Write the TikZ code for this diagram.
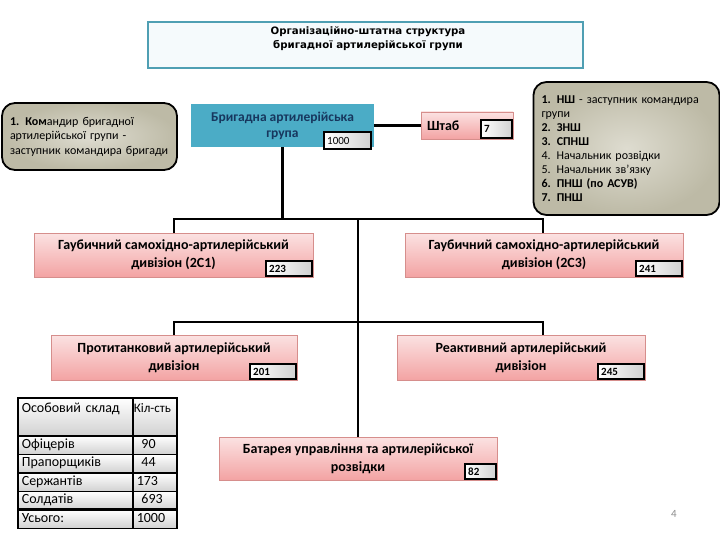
\documentclass[tikz,border=0pt]{standalone}
\usepackage{fontspec}
\setmainfont{Carlito}
\newfontfamily\titlefont{DejaVu Sans}
\usepackage{tikz}

\definecolor{titleline}{HTML}{4F9FB3}
\definecolor{titlefill}{HTML}{F5FAFC}
\definecolor{pinktop}{HTML}{FBE2E2}
\definecolor{pinkbot}{HTML}{F3A3A3}
\definecolor{pinkline}{HTML}{D68E8C}
\definecolor{brigblue}{HTML}{4BACC6}
\definecolor{brigtext}{HTML}{17375E}
\definecolor{notein}{HTML}{DEDCD0}
\definecolor{noteout}{HTML}{BDBAA6}

\begin{document}
\begin{tikzpicture}[x=1pt, y=-1pt,
    unitbox/.style={draw=pinkline, top color=pinktop, bottom color=pinkbot,
        minimum height=44, inner sep=2pt, align=center,
        font=\bfseries\fontsize{14}{18}\selectfont},
    numbox/.style={draw=black, line width=2pt, left color=white, right color=black!18,
        anchor=south east, minimum height=15, inner xsep=3pt, inner ysep=1pt,
        text width=#1, align=left, font=\bfseries\fontsize{11}{12}\selectfont},
    numbox/.default=40,
    notebox/.style={draw=black, line width=1.8pt, rounded corners=13pt,
        inner color=notein, outer color=noteout, align=left, inner xsep=8pt,
        font=\fontsize{12}{14.5}\selectfont},
    link/.style={line width=2.6pt},
    cell/.style={draw=black, line width=1.6pt, top color=white, bottom color=black!18,
        anchor=north west, inner xsep=4pt, inner ysep=0pt, text depth=3pt,
        font=\fontsize{14}{17}\selectfont},
    headcell/.style={cell, minimum height=38, text height=10pt, text depth=18pt}
]
    \useasboundingbox (0,0) rectangle (720,540);

    % Title
    \node[draw=titleline, line width=2.5pt, fill=titlefill, minimum width=435,
        minimum height=46] (title) at (365.5,45) {};
    \node[align=center, font=\titlefont\bfseries\fontsize{10.2}{14}\selectfont]
        (titletext) at (368,38.5) {Організаційно-штатна структура\\бригадної артилерійської групи};

    % Commander and staff notes
    \node[notebox, minimum width=175, minimum height=67, text width=159] (cmdr) at (89.5,136.5)
        {\textbf{1. Ком}андир бригадної\\артилерійської групи -\\заступник командира бригади};
    \node[notebox, minimum width=186, minimum height=133, text width=170, font=\fontsize{12}{14}\selectfont]
        (staffnote) at (626.5,148.5)
        {\textbf{1. НШ} - заступник командира\\групи\\\textbf{2. ЗНШ}\\\textbf{3. СПНШ}\\4. Начальник розвідки\\5. Начальник зв'язку\\\textbf{6. ПНШ (по АСУВ)}\\\textbf{7. ПНШ}};

    % Brigade group and staff
    \node[fill=brigblue, minimum width=183, minimum height=43, align=center, text=brigtext,
        font=\bfseries\fontsize{13.5}{16}\selectfont] (brig) at (282.5,125.5)
        {Бригадна артилерійська\\група};
    \node[numbox=41, draw=black, font=\fontsize{11}{12}\selectfont, minimum height=17]
        (brignum) at ([shift={(-2,3)}]brig.south east) {1000};
    \node[unitbox, minimum width=92, minimum height=27, text width=80, align=left,
        inner xsep=6pt] (shtab) at (467,125.5) {Штаб\\[-4pt]};
    \node[numbox=25, minimum height=18] (shtabnum) at (shtab.south east) {7};

    % Divisions
    \node[unitbox, minimum width=279] (div1) at (173.5,255)
        {Гаубичний самохідно-артилерійський\\дивізіон (2С1)};
    \node[numbox] (div1num) at (div1.south east) {223};
    \node[unitbox, minimum width=278] (div2) at (544,255)
        {Гаубичний самохідно-артилерійський\\дивізіон (2С3)};
    \node[numbox] (div2num) at (div2.south east) {241};
    \node[unitbox, minimum width=246, minimum height=45] (div3) at (174,357.5)
        {Протитанковий артилерійський\\дивізіон};
    \node[numbox] (div3num) at (div3.south east) {201};
    \node[unitbox, minimum width=248, minimum height=45] (div4) at (521,357.5)
        {Реактивний артилерійський\\дивізіон};
    \node[numbox] (div4num) at (div4.south east) {245};
    \node[unitbox, minimum width=278, minimum height=43] (bat) at (358,458.5)
        {Батарея управління та артилерійської\\розвідки};
    \node[numbox=25] (batnum) at (bat.south east) {82};

    % Connectors
    \coordinate (bus1w) at (174,219);
    \coordinate (bus1e) at (543,219);
    \coordinate (bus2w) at (174,322);
    \coordinate (bus2e) at (543,322);
    \draw[link] (brig.east) -- (shtab.west);
    \draw[link] (brig.south) -- (brig.south |- bus1w);
    \draw[link] (bus1w |- div1.north) -- (bus1w) -- (bus1e) -- (bus1e |- div2.north);
    \draw[link] (bus2w |- div3.north) -- (bus2w) -- (bus2e) -- (bus2e |- div4.north);
    \draw[link] (bat.north |- bus1w) -- (bat.north);

    % Personnel table
    \node[headcell, minimum width=115, text width=107, align=left] (head1) at (17,397)
        {Особовий склад};
    \node[headcell, minimum width=44, text width=42, inner xsep=1pt, align=left,
        font=\fontsize{13}{17}\selectfont] (head2) at (132,397)
        {\mbox{Кіл-сть}};
    \foreach \rank/\qty [count=\i] in {Офіцерів/\ 90, Прапорщиків/\ 44, Сержантів/173,
        Солдатів/\ 693, Усього:/1000} {
        \node[cell, minimum width=115, minimum height=18.5, text width=107, align=left]
            (rank\i) at (17,{435+(\i-1)*18.5}) {\rank};
        \node[cell, minimum width=44, minimum height=18.5, text width=36, align=left]
            (qty\i) at (132,{435+(\i-1)*18.5}) {\qty};
    }
    \draw[line width=3pt] (rank5.north west) -- (qty5.north east);

    % Page number
    \node[text=black!45, font=\fontsize{11}{12}\selectfont] (page) at (674,514) {4};
\end{tikzpicture}
\end{document}
